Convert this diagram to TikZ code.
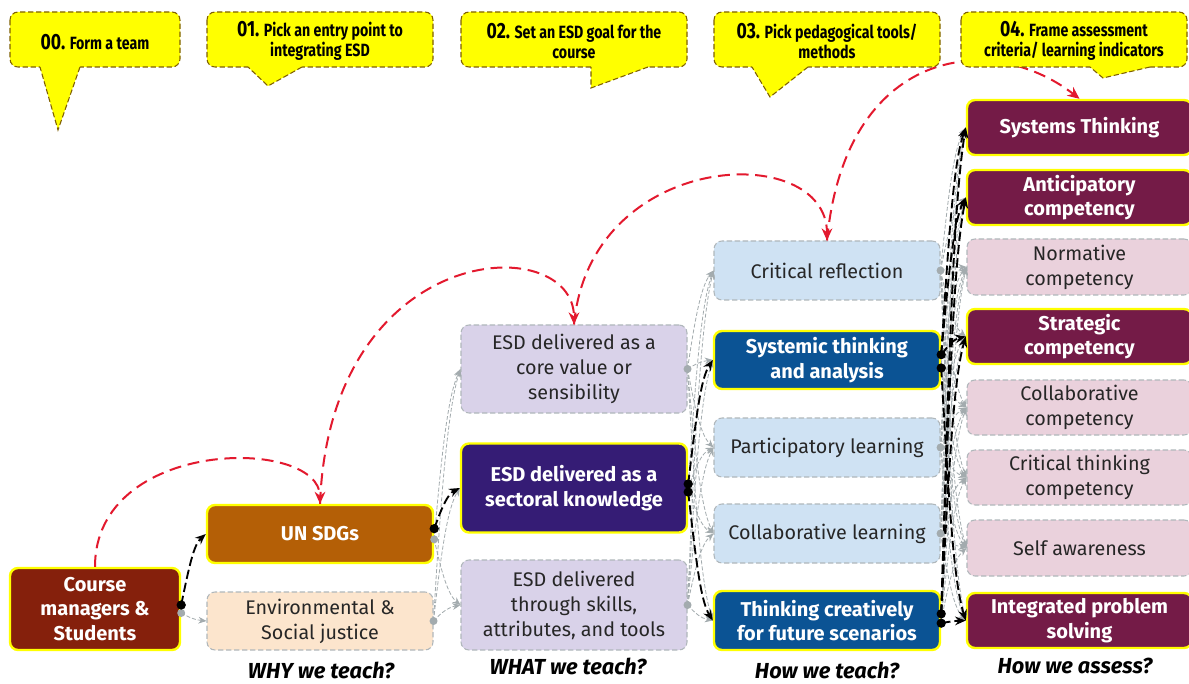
\documentclass[tikz,border=0pt]{standalone}
\usepackage{fontspec}
\setmainfont{Fira Sans}
\newfontfamily\condf{Fira Sans}[FakeStretch=0.8]
\usetikzlibrary{arrows.meta,calc}
\definecolor{cmred}{HTML}{85200C}
\definecolor{sdgc}{HTML}{B45F06}
\definecolor{peach}{HTML}{FCE5CD}
\definecolor{lav}{HTML}{D9D2E9}
\definecolor{dpurp}{HTML}{351C75}
\definecolor{lblue}{HTML}{CFE2F3}
\definecolor{dblue}{HTML}{0B5394}
\definecolor{maroon}{HTML}{741B47}
\definecolor{pink}{HTML}{EAD1DC}
\definecolor{ylw}{HTML}{FFFF00}
\definecolor{bord}{HTML}{B0B7BB}
\definecolor{conng}{HTML}{A3ABAE}
\definecolor{txt}{HTML}{262626}
\definecolor{redc}{HTML}{E3192E}
\definecolor{calbord}{HTML}{7F6000}
\newcommand\myconn[4]{%
  \draw[#1] let \p1=([yshift=#4]#2.east), \p2=(#3.west) in
    (\p1) .. controls (\x1+6pt,{\y1+0.55*((\y2)-(\y1))}) and (\x2-9pt,{\y2-0.15*((\y2)-(\y1))}) .. (\p2);}
\begin{document}
\begin{tikzpicture}[x=0.75pt,y=-0.75pt,
  box/.style={rounded corners=6pt, inner sep=0pt, align=center},
  hl/.style={box, draw=ylw, line width=1.8pt, text=white, font=\bfseries\fontsize{15}{18.5}\selectfont},
  pl/.style={box, draw=bord, line width=0.8pt, dash pattern=on 4pt off 2pt, text=txt, font=\fontsize{14.8}{18.75}\selectfont},
  sz/.style 2 args={minimum width=#1*0.75pt, minimum height=#2*0.75pt},
  callout/.style={fill=ylw, draw=calbord, line width=0.8pt, dash pattern=on 4pt off 2pt},
  ctext/.style={align=center, inner sep=0pt, font=\condf\bfseries\fontsize{13.3}{15}\selectfont},
  qlabel/.style={inner sep=0pt, font=\bfseries\itshape\fontsize{16.3}{18}\selectfont},
  redarc/.style={draw=redc, line width=1.5pt, dash pattern=on 9pt off 5pt, -{Stealth[length=9pt,width=8pt]}},
  gconn/.style={draw=conng, line width=0.6pt, dash pattern=on 3pt off 1.5pt, -{Stealth[length=6pt,width=5pt]}},
  bconn/.style={draw=black, line width=1.4pt, dash pattern=on 7pt off 3pt, -{Stealth[length=8pt,width=6.5pt]}},
  gdot/.style={fill=conng},
  bdot/.style={fill=black}
]
\fill[white] (0,0) rectangle (1189,684);
\useasboundingbox (0,0) rectangle (1189,684);

% ---------- nodes ----------
\node[hl, fill=cmred, sz={170}{82}] (cm) at (95,609) {Course\\managers \&\\Students};
\node[hl, fill=sdgc, sz={226}{58}] (sdg) at (320,534) {UN SDGs};
\node[pl, fill=peach, sz={226}{58}] (env) at (320,621) {Environmental \&\\Social justice};
\node[pl, fill=lav, sz={226}{88}] (core) at (574,369) {ESD delivered as a\\core value or\\sensibility};
\node[hl, fill=dpurp, sz={226}{89}] (sect) at (574,488) {ESD delivered as a\\sectoral knowledge};
\node[pl, fill=lav, sz={226}{90}] (skills) at (574,605) {ESD delivered\\through skills,\\attributes, and tools};
\node[pl, fill=lblue, sz={226}{59}] (crit) at (827,270.5) {Critical reflection};
\node[hl, fill=dblue, sz={226}{58}] (syst) at (827,360) {Systemic thinking\\and analysis};
\node[pl, fill=lblue, sz={226}{59}] (part) at (827,447.5) {Participatory learning};
\node[pl, fill=lblue, sz={226}{59}] (coll) at (827,533.5) {Collaborative learning};
\node[hl, fill=dblue, sz={226}{59}] (creat) at (827,620.5) {Thinking creatively\\for future scenarios};
\node[hl, fill=maroon, sz={225}{55}] (st) at (1079.5,127.5) {Systems Thinking};
\node[hl, fill=maroon, sz={225}{55}] (ant) at (1079.5,197.5) {Anticipatory\\competency};
\node[pl, fill=pink, sz={225}{56}] (norm) at (1079.5,267) {Normative\\competency};
\node[hl, fill=maroon, sz={225}{55}] (strat) at (1079.5,336.5) {Strategic\\competency};
\node[pl, fill=pink, sz={225}{55}] (collc) at (1079.5,407.5) {Collaborative\\competency};
\node[pl, fill=pink, sz={225}{55}] (critt) at (1079.5,477.5) {Critical thinking\\competency};
\node[pl, fill=pink, sz={225}{56}] (self) at (1079.5,548) {Self awareness};
\node[hl, fill=maroon, sz={225}{55}] (integ) at (1079.5,620.5) {Integrated problem\\solving};

% ---------- red arcs ----------
\draw[redarc] (cm.north) .. controls +(0,-130) and +(0,-67) .. (sdg.north);
\draw[redarc] (sdg.north) .. controls +(10,-265) and +(0,-95) .. (core.north);
\draw[redarc] (core.north) .. controls +(16,-175) and +(0,-101) .. (crit.north);
\draw[redarc] (crit.north) .. controls +(18,-191) and +(-90,-70) .. (st.north);

% ---------- callouts ----------
\foreach \xa/\xb/\pa/\pb/\tx/\ty in {10/180/40/80/58/130, 207/433/248/302/268/86, 461/687/591/648/591/88, 714/940/752/808/770/97, 961/1187/1090/1150/1103/78}{
  \filldraw[callout, rounded corners=6pt] (\xa,12) rectangle (\xb,67);
  \fill[ylw] (\pa,64) -- (\pb,64) -- (\pb,67) -- (\tx,\ty) -- (\pa,67) -- cycle;
  \draw[callout, fill=none] (\pb,67) -- (\tx,\ty) -- (\pa,67);
}
\newcommand\cnum[1]{{\fontsize{16.5}{15}\selectfont #1}}
\node[ctext] (c00) at (95,42) {\cnum{00.} Form a team};
\node[ctext] (c01) at (320,41) {\cnum{01.} Pick an entry point to\\integrating ESD};
\node[ctext] (c02) at (574,41) {\cnum{02.} Set an ESD goal for the\\course};
\node[ctext] (c03) at (827,41) {\cnum{03.} Pick pedagogical tools/\\methods};
\node[ctext] (c04) at (1074,41) {\cnum{04.} Frame assessment\\criteria/ learning indicators};

% ---------- gray connectors ----------
\myconn{gconn}{cm}{env}{-3pt}
\foreach \t in {core,skills}{\myconn{gconn}{sdg}{\t}{-4pt}}
\foreach \t in {core,sect,skills}{\myconn{gconn}{env}{\t}{0pt}}
\foreach \t in {crit,syst,part,coll,creat}{\myconn{gconn}{core}{\t}{0pt}}
\foreach \t in {crit,part,coll}{\myconn{gconn}{sect}{\t}{0pt}}
\foreach \t in {crit,syst,part,coll,creat}{\myconn{gconn}{skills}{\t}{0pt}}
\foreach \s in {crit,part,coll}{
  \foreach \t in {st,ant,norm,strat,collc,critt,self,integ}{\myconn{gconn}{\s}{\t}{0pt}}}
\foreach \t in {norm,collc,critt,self}{\myconn{gconn}{syst}{\t}{-3pt}}
\foreach \t in {norm,collc,critt,self}{\myconn{gconn}{creat}{\t}{0pt}}

% ---------- black connectors ----------
\myconn{bconn}{cm}{sdg}{3pt}
\myconn{bconn}{sdg}{sect}{4pt}
\myconn{bconn}{sect}{syst}{3pt}
\myconn{bconn}{sect}{creat}{-3pt}
\foreach \t in {st,ant,strat}{\myconn{bconn}{syst}{\t}{4pt}}
\myconn{bconn}{syst}{integ}{-6pt}
\foreach \t in {st,ant,strat}{\myconn{bconn}{creat}{\t}{5pt}}
\myconn{bconn}{creat}{integ}{-2pt}

% ---------- dots ----------
\fill[gdot] ([yshift=-3pt]cm.east) circle (3pt);
\fill[gdot] ([yshift=-4pt]sdg.east) circle (3pt);
\fill[gdot] (env.east) circle (3pt);
\fill[gdot] (core.east) circle (3pt);
\fill[gdot] (skills.east) circle (3pt);
\fill[gdot] (crit.east) circle (3pt);
\fill[gdot] (part.east) circle (3pt);
\fill[gdot] (coll.east) circle (3pt);
\fill[bdot] ([yshift=3pt]cm.east) circle (3.5pt);
\fill[bdot] ([yshift=4pt]sdg.east) circle (3.5pt);
\fill[bdot] ([yshift=3pt]sect.east) circle (3.5pt);
\fill[bdot] ([yshift=-3pt]sect.east) circle (3.5pt);
\fill[bdot] ([yshift=4pt]syst.east) circle (3.5pt);
\fill[bdot] ([yshift=-6pt]syst.east) circle (3.5pt);
\fill[bdot] ([yshift=5pt]creat.east) circle (3.5pt);
\fill[bdot] ([yshift=-2pt]creat.east) circle (3.5pt);

% ---------- question labels ----------
\node[qlabel] (q1) at (321,670) {WHY we teach?};
\node[qlabel] (q2) at (568,666) {WHAT we teach?};
\node[qlabel] (q3) at (827,670) {How we teach?};
\node[qlabel] (q4) at (1075,666) {How we assess?};
\end{tikzpicture}
\end{document}
